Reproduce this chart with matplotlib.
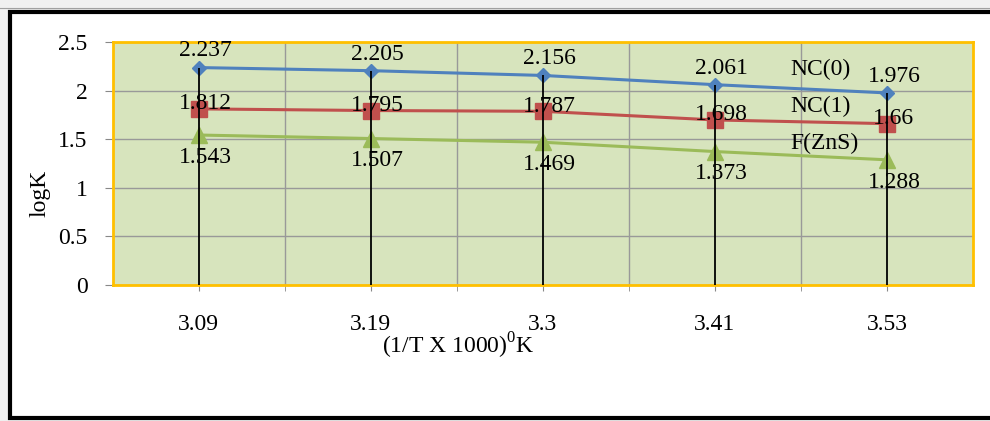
import matplotlib.pyplot as plt
from matplotlib.patches import Rectangle

plt.rcParams['font.family'] = ['Liberation Serif', 'DejaVu Serif']
plt.rcParams['mathtext.fontset'] = 'custom'
plt.rcParams['mathtext.rm'] = 'Liberation Serif'

# 1/T x 1000 categories and logK for each system
categories = ['3.09', '3.19', '3.3', '3.41', '3.53']
nc0 = [2.237, 2.205, 2.156, 2.061, 1.976]
nc1 = [1.812, 1.795, 1.787, 1.698, 1.66]
fzns = [1.543, 1.507, 1.469, 1.373, 1.288]
series_names = ['NC(0)', 'NC(1)', 'F(ZnS)']

FS = 17

fig = plt.figure(figsize=(9.9, 4.21), dpi=100)
fig.patch.set_facecolor('#f0f0f0')

# chart window frame
fig.patches.append(Rectangle((10 / 990, 3 / 421), 1.2, 406 / 421, transform=fig.transFigure,
                             facecolor='white', edgecolor='black', lw=3, zorder=-5))
fig.lines.append(plt.Line2D([0, 1], [413 / 421, 413 / 421], transform=fig.transFigure,
                            color='#a0a0a0', lw=0.8, zorder=-5))

ax = fig.add_axes([112.5 / 990, 136 / 421, 860.5 / 990, 243 / 421])
ax.set_facecolor('#d7e4bd')
x = list(range(len(categories)))

ax.plot(x, nc0, color='#4f81bd', lw=2.2, marker='D', ms=7.5, label=series_names[0], zorder=3)
ax.plot(x, nc1, color='#c0504d', lw=2.2, marker='s', ms=11, label=series_names[1], zorder=3)
ax.plot(x, fzns, color='#9bbb59', lw=2.2, marker='^', ms=11, label=series_names[2], zorder=3)

# drop lines
ax.vlines(x, 0, nc0, color='black', lw=1.3, zorder=5)

for xi, v in zip(x, nc0):
    ax.annotate(f'{v:g}', (xi, v), xytext=(5, 12), textcoords='offset points',
                ha='center', va='center', fontsize=FS, zorder=6)
for xi, v in zip(x, nc1):
    ax.annotate(f'{v:g}', (xi, v), xytext=(5, 3.6), textcoords='offset points',
                ha='center', va='center', fontsize=FS, zorder=6)
for xi, v in zip(x, fzns):
    ax.annotate(f'{v:g}', (xi, v), xytext=(5, -16), textcoords='offset points',
                ha='center', va='center', fontsize=FS, zorder=6)

ax.set_xlim(-0.5, len(categories) - 0.5)
ax.set_ylim(0, 2.5)
ax.set_yticks([0, 0.5, 1, 1.5, 2, 2.5])
ax.set_yticklabels(['0', '0.5', '1', '1.5', '2', '2.5'])
ax.set_xticks(x)
ax.set_xticklabels(categories)
ax.set_xticks([i + 0.5 for i in x[:-1]], minor=True)

ax.grid(which='minor', axis='x', color='#999999', lw=1)
ax.grid(which='major', axis='y', color='#999999', lw=1)
ax.set_axisbelow(True)

ax.tick_params(axis='y', direction='out', length=6, color='#888888', pad=12, labelsize=FS)
ax.tick_params(axis='x', which='both', direction='out', length=4, color='#888888', pad=17, labelsize=FS)
for s in ax.spines.values():
    s.set_color('#ffc000')
    s.set_linewidth(2)

fig.text(458 / 990, 1 - 346 / 421, '(1/T X 1000)$^{0}$K', ha='center', va='center', fontsize=FS)
fig.text(40 / 990, 1 - 193 / 421, 'logK', ha='center', va='center', rotation=90, fontsize=FS)

leg = ax.legend(loc='upper left', bbox_to_anchor=(0.768, 1.0), frameon=False, fontsize=FS,
                handlelength=0, handletextpad=0, labelspacing=0.66, borderaxespad=0.3)
for h in leg.legend_handles:
    h.set_visible(False)

fig.savefig('out.png', dpi=100, facecolor=fig.get_facecolor())
